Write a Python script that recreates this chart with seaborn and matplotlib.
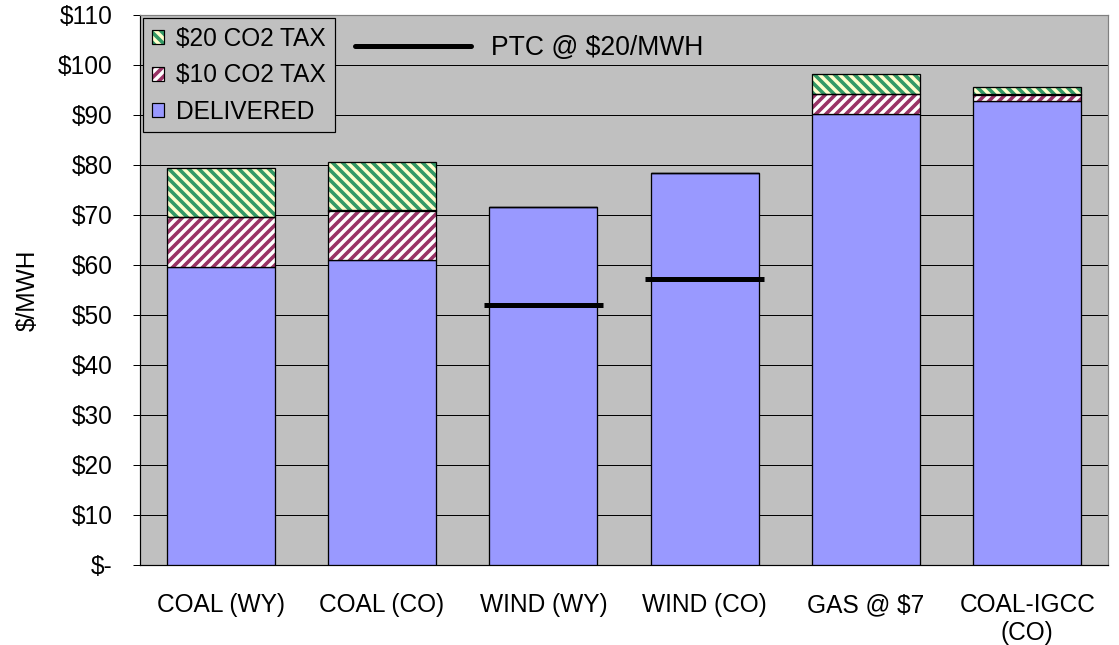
import matplotlib
matplotlib.use("Agg")
import matplotlib.pyplot as plt
import seaborn as sns
import numpy as np
from matplotlib.patches import Patch
from matplotlib.lines import Line2D
from matplotlib.ticker import FixedLocator, FuncFormatter, NullFormatter

# ---------------- data ----------------
categories = ["COAL (WY)", "COAL (CO)", "WIND (WY)", "WIND (CO)", "GAS @ $7", "COAL-IGCC\n(CO)"]
delivered = [59.7, 61.0, 71.6, 78.5, 90.2, 92.9]
tax10 = [10.0, 9.9, 0.0, 0.0, 4.0, 1.2]
tax20 = [9.8, 9.8, 0.0, 0.0, 3.9, 1.6]
ptc_categories = ["WIND (WY)", "WIND (CO)"]
ptc_values = [52.1, 57.3]
y_ticks = [0, 10, 20, 30, 40, 50, 60, 70, 80, 90, 100, 110]
series_labels = ["$20 CO2 TAX", "$10 CO2 TAX", "DELIVERED"]
ptc_label = "PTC @ $20/MWH"
y_label = "$/MWH"

# ---------------- style ----------------
DPI = 60


def P(px):
    """pixels -> points at the figure dpi"""
    return px * 72.0 / DPI


sns.set_style("white", {"axes.facecolor": "#C0C0C0", "text.color": "black",
                        "axes.labelcolor": "black", "xtick.color": "black",
                        "ytick.color": "black"})
plt.rcParams["font.family"] = ["Liberation Sans", "DejaVu Sans"]
plt.rcParams["text.parse_math"] = False
plt.rcParams["hatch.linewidth"] = P(3.6)

c_deliv = "#9999FF"
c_t10_face, c_t10_hatch = "#FFFFFF", "#993366"
c_t20_face, c_t20_hatch = "#FFFFCC", "#339966"
FS = P(24.5)
FS_PTC = P(26.5)
BAR_W = 0.67
EDGE_LW = P(1.3)

fig = plt.figure(figsize=(1119 / DPI, 645 / DPI), dpi=DPI)
ax = fig.add_axes([140 / 1119, 80 / 645, 968 / 1119, 550 / 645])

bottom20 = [d + t for d, t in zip(delivered, tax10)]

# delivered
sns.barplot(x=categories, y=delivered, color=c_deliv, saturation=1, width=BAR_W,
            edgecolor="black", linewidth=EDGE_LW, errorbar=None, ax=ax, zorder=3)
# $10 tax (hatch pass, then outline pass)
sns.barplot(x=categories, y=tax10, bottom=delivered, color=c_t10_face, saturation=1,
            width=BAR_W, hatch="//", edgecolor=c_t10_hatch, linewidth=0,
            errorbar=None, ax=ax, zorder=3)
sns.barplot(x=categories, y=tax10, bottom=delivered, color="black", fill=False,
            width=BAR_W, linewidth=EDGE_LW, errorbar=None, ax=ax, zorder=4)
# $20 tax
sns.barplot(x=categories, y=tax20, bottom=bottom20, color=c_t20_face, saturation=1,
            width=BAR_W, hatch="\\\\", edgecolor=c_t20_hatch, linewidth=0,
            errorbar=None, ax=ax, zorder=3)
sns.barplot(x=categories, y=tax20, bottom=bottom20, color="black", fill=False,
            width=BAR_W, linewidth=EDGE_LW, errorbar=None, ax=ax, zorder=4)

# PTC lines
ptc_idx = [categories.index(c) for c in ptc_categories]
ax.hlines(ptc_values, [i - 0.37 for i in ptc_idx], [i + 0.37 for i in ptc_idx],
          colors="black", linewidth=P(5), zorder=5)

# ---------------- axes ----------------
ax.set_xlim(-0.5, len(categories) - 0.5)
ax.set_ylim(0, 110)
ax.yaxis.set_major_locator(FixedLocator(y_ticks))
ax.yaxis.set_major_formatter(FuncFormatter(lambda v, p: "$-" if v == 0 else f"${v:.0f}"))
ax.grid(axis="y", color="black", linewidth=P(1.0), zorder=0)
ax.grid(axis="x", visible=False)
ax.set_axisbelow(True)

ax.xaxis.set_major_locator(FixedLocator(np.arange(-0.5, len(categories), 1.0)))
ax.xaxis.set_major_formatter(NullFormatter())
ax.set_xticks(np.arange(len(categories)), labels=categories, minor=True)
ax.tick_params(axis="x", which="major", direction="out", length=P(7), width=P(1),
               color="black")
ax.tick_params(axis="x", which="minor", length=0, pad=P(28), labelsize=FS,
               labelcolor="black")
ax.tick_params(axis="y", which="major", direction="out", length=P(7), width=P(1),
               color="black", pad=P(20), labelsize=FS, left=True, labelcolor="black")
ax.set_xlabel("")
ax.set_ylabel(y_label, fontsize=FS, labelpad=P(18), color="black")

for side in ["left", "bottom"]:
    ax.spines[side].set_color("black")
    ax.spines[side].set_linewidth(P(1.2))
for side in ["top", "right"]:
    ax.spines[side].set_visible(True)
    ax.spines[side].set_color("#808080")
    ax.spines[side].set_linewidth(P(1.2))

# ---------------- legends ----------------
h20 = (Patch(facecolor=c_t20_face, edgecolor=c_t20_hatch, hatch="\\\\", linewidth=0),
       Patch(facecolor="none", edgecolor="black", linewidth=P(1.2)))
h10 = (Patch(facecolor=c_t10_face, edgecolor=c_t10_hatch, hatch="//", linewidth=0),
       Patch(facecolor="none", edgecolor="black", linewidth=P(1.2)))
hdl = Patch(facecolor=c_deliv, edgecolor="black", linewidth=P(1.2))
leg1 = ax.legend([h20, h10, hdl], series_labels, loc="upper left",
                 bbox_to_anchor=(0.003, 0.994), borderaxespad=0, fontsize=FS,
                 frameon=True, fancybox=False, framealpha=1, edgecolor="black",
                 handlelength=0.5, handleheight=0.5, handletextpad=0.5,
                 labelspacing=0.5, borderpad=0.36, labelcolor="black")
leg1.get_frame().set_linewidth(P(1.2))
leg1.set_zorder(10)
ax.add_artist(leg1)

leg2 = ax.legend([Line2D([0], [0], color="black", linewidth=P(5))], [ptc_label],
                 loc="upper left", bbox_to_anchor=(0.222, 0.963), borderaxespad=0,
                 borderpad=0, frameon=False, fontsize=FS_PTC, handlelength=4.4,
                 handletextpad=0.75, labelcolor="black")
leg2.set_zorder(10)

fig.savefig("out.png", dpi=DPI)
